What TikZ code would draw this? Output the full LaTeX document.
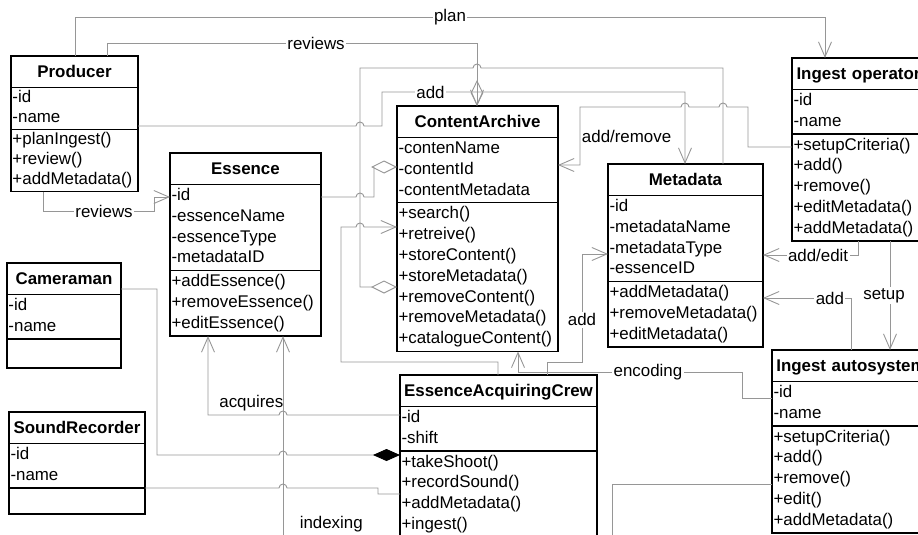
\documentclass[tikz,border=0pt]{standalone}
\usepackage{fontspec}
\setmainfont{Liberation Sans}
\usetikzlibrary{shapes.multipart, shapes.geometric, arrows.meta, positioning}
\setlength{\parindent}{0pt}

\definecolor{linegray}{RGB}{150,150,150}
\newcommand{\umlfont}{\fontsize{16.9}{20.8}\selectfont}
\newcommand{\classname}[1]{{\centering\bfseries\rule[-8.3pt]{0pt}{28.2pt}#1\par}}
\newcommand{\rows}[1]{\strut#1\strut}
\newcommand{\norows}[1]{\rule{0pt}{#1pt}}
\newcommand{\jumpr}{arc[start angle=180, end angle=360, radius=4]}
\newcommand{\jumpl}{arc[start angle=0, end angle=-180, radius=4]}

\tikzstyle{umlclass} = [rectangle split, rectangle split parts=3, draw, line width=1.3pt, anchor=north west, outer sep=0pt, inner xsep=1.5pt, inner ysep=0.9pt, font=\umlfont]
\tikzstyle{conn} = [draw=linegray, line width=0.9pt]
\tikzstyle{nav} = [conn, -{Straight Barb[length=15pt, width=13pt]}]
\tikzstyle{agg} = [conn, -{Diamond[open, length=26pt, width=13pt]}]
\tikzstyle{comp} = [conn, -{Diamond[length=27pt, width=12pt, black]}]
\tikzstyle{lbl} = [fill=white, inner sep=1.5pt, font=\umlfont]

\begin{document}
\begin{tikzpicture}[x=1pt, y=-1pt]
    \useasboundingbox (0,0) rectangle (918,535);
    \clip (0,0) rectangle (918,535);

    % classes
    \node (prod) [umlclass, text width=124pt, font=\fontsize{16.9}{19.6}\selectfont] at (11,56) {\classname{Producer}
        \nodepart{two}\rows{-id\\-name}
        \nodepart{three}\rows{+planIngest()\\+review()\\+addMetadata()}};
    \node (ess) [umlclass, text width=148pt] at (170,153) {\classname{Essence}
        \nodepart{two}\rows{-id\\-essenceName\\-essenceType\\-metadataID}
        \nodepart{three}\rows{+addEssence()\\+removeEssence()\\+editEssence()}};
    \node (cam) [umlclass, text width=111pt] at (7,263) {\classname{Cameraman}
        \nodepart{two}\rows{-id\\-name}
        \nodepart{three}\norows{26}};
    \node (snd) [umlclass, text width=133pt] at (9,412) {\classname{SoundRecorder}
        \nodepart{two}\rows{-id\\-name}
        \nodepart{three}\norows{23}};
    \node (ca) [umlclass, text width=158pt] at (397,106) {\classname{ContentArchive}
        \nodepart{two}\rows{-contenName\\-contentId\\-contentMetadata}
        \nodepart{three}\rows{+search()\\+retreive()\\+storeContent()\\+storeMetadata()\\+removeContent()\\+removeMetadata()\\+catalogueContent()}};
    \node (meta) [umlclass, text width=152pt] at (608,164) {\classname{Metadata}
        \nodepart{two}\rows{-id\\-metadataName\\-metadataType\\-essenceID}
        \nodepart{three}\rows{+addMetadata()\\+removeMetadata()\\+editMetadata()}};
    \node (iop) [umlclass, text width=130pt] at (792,58) {\classname{Ingest operator}
        \nodepart{two}\rows{-id\\-name}
        \nodepart{three}\rows{+setupCriteria()\\+add()\\+remove()\\+editMetadata()\\+addMetadata()}};
    \node (ias) [umlclass, text width=155pt] at (772,350) {\classname{Ingest autosystem}
        \nodepart{two}\rows{-id\\-name}
        \nodepart{three}\rows{+setupCriteria()\\+add()\\+remove()\\+edit()\\+addMetadata()}};
    \node (crew) [umlclass, text width=194pt] at (400,375) {\classname{EssenceAcquiringCrew}
        \nodepart{two}\rows{-id\\-shift}
        \nodepart{three}\rows{+takeShoot()\\+recordSound()\\+addMetadata()\\+ingest()}};

    % producer links
    \draw [nav] (prod.north -| 75,0) -- (75,17) -- node[lbl] {plan} (825,17) -- (iop.north -| 825,0);
    \draw [nav] (prod.north -| 107,0) -- (107,43) -- node[lbl, pos=0.565] {reviews} (477,43) -- (ca.north -| 477,0);
    \node (ca-agg) [diamond, draw=linegray, line width=0.9pt, minimum width=12pt, minimum height=24pt, inner sep=0pt] at (477,93) {};
    \draw [nav] (prod.east |- 0,126) -- (356,126) \jumpr -- (382,126) -- (382,92) -- node[lbl, pos=0.16] {add} (685,92) -- (meta.north -| 685,0);
    \draw [nav] (prod.south -| 43,0) -- (43,211) -- node[lbl, pos=0.55] {reviews} (154,211) -- (154,197) -- (ess.west |- 0,197);

    % aggregation into the archive
    \draw [agg] (meta.north -| 723,0) -- (723,68) -- (481,68) \jumpl -- (360,68) -- (360,287) -- (ca.west |- 0,287);
    \draw [agg] (ess.east |- 0,197) -- (356,197) \jumpr -- (374,197) -- (374,167) -- (ca.west |- 0,167);

    % crew and ingest links
    \draw [nav] (crew.north -| 498,0) -- (498,362) -- (341,362) -- (341,227) -- (356,227) \jumpr -- (ca.west |- 0,227);
    \draw [nav] (ias.west |- 0,398) -- (742,398) -- (742,372) -- node[lbl, pos=0.42] {encoding} (518,372) -- (ca.south -| 518,0);
    \draw [nav] (crew.north -| 547,0) -- (547,362) -- (582,362) -- node[lbl, pos=0.39] {add} (582,254) -- (meta.west |- 0,254);
    \draw [nav] (iop.west |- 0,147) -- (748,147) -- (748,107) -- (727,107) \jumpl -- (689,107) \jumpl -- (580,107) -- node[right, inner sep=1.5pt, font=\umlfont] {add/remove} (580,165) -- (ca.east |- 0,165);
    \draw [nav] (iop.south -| 858,0) -- (858,255) -- node[lbl, pos=0.42] {add/edit} (meta.east |- 0,255);
    \draw [nav] (iop.south -| 890,0) -- node[lbl, xshift=-6] {setup} (ias.north -| 890,0);
    \draw [nav] (ias.north -| 851,0) -- (851,298) -- node[lbl, pos=0.24] {add} (meta.east |- 0,298);
    \coordinate (ias-out) at (612,545);
    \draw [conn] (ias.west |- 0,484) -- (612,484) -- (ias-out);

    % essence acquisition
    \coordinate (ess-out) at (283,545);
    \draw [nav] (ess-out) -- node[right=13pt, pos=0.1, font=\umlfont] {indexing} (ess.south -| 283,0);
    \draw [nav] (crew.west |- 0,415) -- (287,415) \jumpl -- node[above=0pt, pos=0.39, font=\umlfont] {acquires} (208,415) -- (ess.south -| 208,0);
    \draw [comp] (cam.east |- 0,289) -- (157,289) -- (157,455) -- (279,455) \jumpr -- (crew.west |- 0,455);
    \draw [conn] (snd.east |- 0,488) -- (279,488) \jumpr -- (378,488) -- (378,494) -- (crew.west |- 0,494);

\end{tikzpicture}
\end{document}
